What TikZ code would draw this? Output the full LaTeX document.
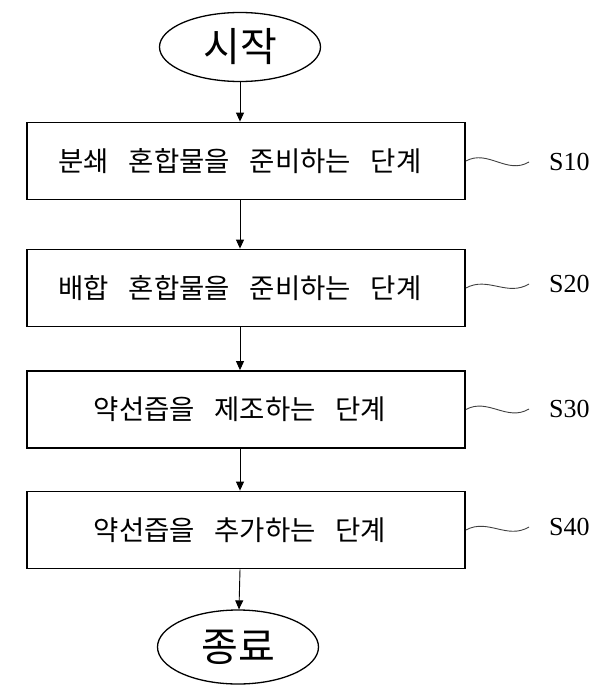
\documentclass[tikz,border=0pt]{standalone}
\usepackage{fontspec}
\setmainfont{Liberation Serif}
\newfontfamily\kr{Noto Sans CJK KR}
\newfontfamily\krwide[WordSpace=3.2]{Noto Sans CJK KR}
\usetikzlibrary{arrows.meta,positioning,shapes.geometric}
\tikzset{
  stepbox/.style={draw,line width=1.8pt,minimum width=438pt,minimum height=77pt,
                  inner sep=0pt,font=\krwide\fontsize{27.5}{30}\selectfont,
                  execute at begin node=\hspace*{-12pt}},
  term/.style={ellipse,draw,line width=1.3pt,minimum width=161pt,minimum height=69pt,
               inner sep=0pt,font=\kr\fontsize{40}{44}\selectfont},
  flow/.style={-{Triangle[length=9pt,width=8pt]},line width=0.9pt},
  tilde/.style={line width=0.9pt,black!75},
  slab/.style={anchor=west,inner sep=0pt,font=\fontsize{26}{30}\selectfont},
}

\begin{document}
\begin{tikzpicture}[x=1pt,y=-1pt]
  \useasboundingbox (0,0) rectangle (599,693);
  \node[term] (start) at (240,47) {시작};
  \node[stepbox] (st10) at (246,161)   {분쇄 혼합물을 준비하는 단계};
  \node[stepbox] (st20) at (246,288)   {배합 혼합물을 준비하는 단계};
  \node[stepbox] (st30) at (246,409.5) {약선즙을 제조하는 단계};
  \node[stepbox] (st40) at (246,530)   {약선즙을 추가하는 단계};
  \node[term,minimum height=74pt] (stop) at (238,647) {종료};
  \node[slab] (l10) at (549,162) {S10};
  \node[slab] (l20) at (549,284) {S20};
  \node[slab] (l30) at (549,409) {S30};
  \node[slab] (l40) at (549,527) {S40};
  \draw[flow] (start) -- (start |- st10.north);
  \draw[flow] (st10.south -| start) -- (st20.north -| start);
  \draw[flow] (st20.south -| start) -- (st30.north -| start);
  \draw[flow] (st30.south -| start) -- (st40.north -| start);
  \draw[flow] (st40.south -| start) -- (stop);
  \draw[tilde] (st10.east) .. controls +(22,-12) and +(-22,13) .. ([xshift=-20pt]l10.west);
  \draw[tilde] (st20.east) .. controls +(22,-12) and +(-22,13) .. ([xshift=-20pt]l20.west);
  \draw[tilde] (st30.east) .. controls +(22,-12) and +(-22,13) .. ([xshift=-20pt]l30.west);
  \draw[tilde] (st40.east) .. controls +(22,-12) and +(-22,13) .. ([xshift=-20pt]l40.west);
\end{tikzpicture}
\end{document}
